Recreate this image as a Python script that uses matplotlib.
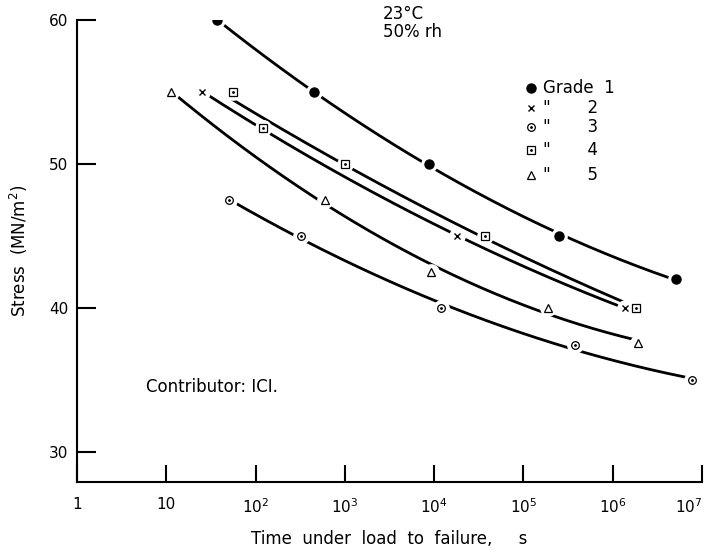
import numpy as np
import matplotlib.pyplot as plt

# creep rupture data (time in s, stress in MN/m2)
g1_t = [37, 450, 8.8e3, 2.5e5, 5.1e6]
g1_s = [60.0, 55.0, 50.0, 45.0, 42.0]
g2_t = [25, 120, 1.8e4, 1.36e6]
g2_s = [55.0, 52.5, 45.0, 40.0]
g3_t = [50, 320, 1.2e4, 3.8e5, 7.7e6]
g3_s = [47.5, 45.0, 40.0, 37.4, 35.0]
g4_t = [56, 120, 1000, 3.7e4, 1.8e6]
g4_s = [55.0, 52.5, 50.0, 45.0, 40.0]
g5_t = [11.4, 600, 9.3e3, 1.9e5, 1.9e6]
g5_s = [55.0, 47.5, 42.5, 40.0, 37.6]

xtick_vals = [1, 10, 1e2, 1e3, 1e4, 1e5, 1e6, 1e7]
xtick_labels = ['1', '10', r'10$^2$', r'10$^3$', r'10$^4$', r'10$^5$', r'10$^6$', r'10$^7$']
ytick_vals = [30, 40, 50, 60]

plt.rcParams['font.family'] = ['DejaVu Sans']
fig = plt.figure(figsize=(7.12, 5.53), dpi=100)
ax = fig.add_axes([0.108, 0.128, 0.878, 0.836])
ax.set_xscale('log')
ax.set_xlim(1, 1e7)
ax.set_ylim(27.9, 60)

series = [
    (g1_t, g1_s, dict(marker='o', ms=6.5, mfc='black', mec='black')),
    (g2_t, g2_s, dict(marker='x', ms=5, mec='black', mew=1.0)),
    (g3_t, g3_s, dict(marker='o', ms=5.5, mfc='white', mec='black', mew=0.9)),
    (g4_t, g4_s, dict(marker='s', ms=6, mfc='white', mec='black', mew=0.9)),
    (g5_t, g5_s, dict(marker='^', ms=5.5, mfc='white', mec='black', mew=0.9)),
]

for t, s, style in series:
    lt = np.log10(t)
    coef = np.polyfit(lt, s, 2)
    xx = np.linspace(lt[0], lt[-1], 200)
    ax.plot(10 ** xx, np.polyval(coef, xx), color='black', lw=2.0, zorder=2)
    # white halo so the curve breaks at each point, like the drawing
    ax.plot(t, s, ls='none', marker='o', ms=11, mfc='white', mec='white', zorder=3)
    ax.plot(t, s, ls='none', color='black', zorder=4, **style)
    if style.get('mfc') == 'white' and style['marker'] in ('o', 's'):
        ax.plot(t, s, ls='none', marker='.', ms=2, color='black', zorder=5)

ax.spines['top'].set_visible(False)
ax.spines['right'].set_visible(False)
ax.spines['left'].set_linewidth(1.5)
ax.spines['bottom'].set_linewidth(1.5)
ax.set_yticks(ytick_vals)
ax.set_yticklabels([str(v) for v in ytick_vals], fontsize=11)
ax.set_xticks(xtick_vals)
ax.set_xticklabels(xtick_labels, fontsize=11)
ax.get_xticklabels()[-1].set_horizontalalignment('right')
ax.minorticks_off()
ax.tick_params(axis='y', direction='in', length=14, width=1.5, pad=6)
ax.tick_params(axis='x', direction='in', length=12, width=1.5, pad=11)

ax.set_ylabel('Stress  (MN/m$^2$)', fontsize=12, labelpad=14)
ax.set_xlabel('Time  under  load  to  failure,     s', fontsize=12, labelpad=10)

ax.text(0.49, 1.032, '23°C\n50% rh', transform=ax.transAxes, fontsize=12,
        va='top', ha='left', linespacing=1.0)
ax.text(0.11, 0.195, 'Contributor: ICI.', transform=ax.transAxes, fontsize=12)

# legend drawn by hand
leg_rows = ['Grade  1', '"       2', '"       3', '"       4', '"       5']
leg_y = [0.853, 0.81, 0.768, 0.719, 0.665]
for (t, s, style), lab, yy in zip(series, leg_rows, leg_y):
    ax.plot([0.726], [yy], transform=ax.transAxes, ls='none', color='black',
            clip_on=False, **style)
    if style.get('mfc') == 'white' and style['marker'] in ('o', 's'):
        ax.plot([0.726], [yy], transform=ax.transAxes, ls='none', marker='.',
                ms=2, color='black')
    ax.text(0.745, yy, lab, transform=ax.transAxes, fontsize=12, va='center')

fig.savefig('out.png', dpi=100)
